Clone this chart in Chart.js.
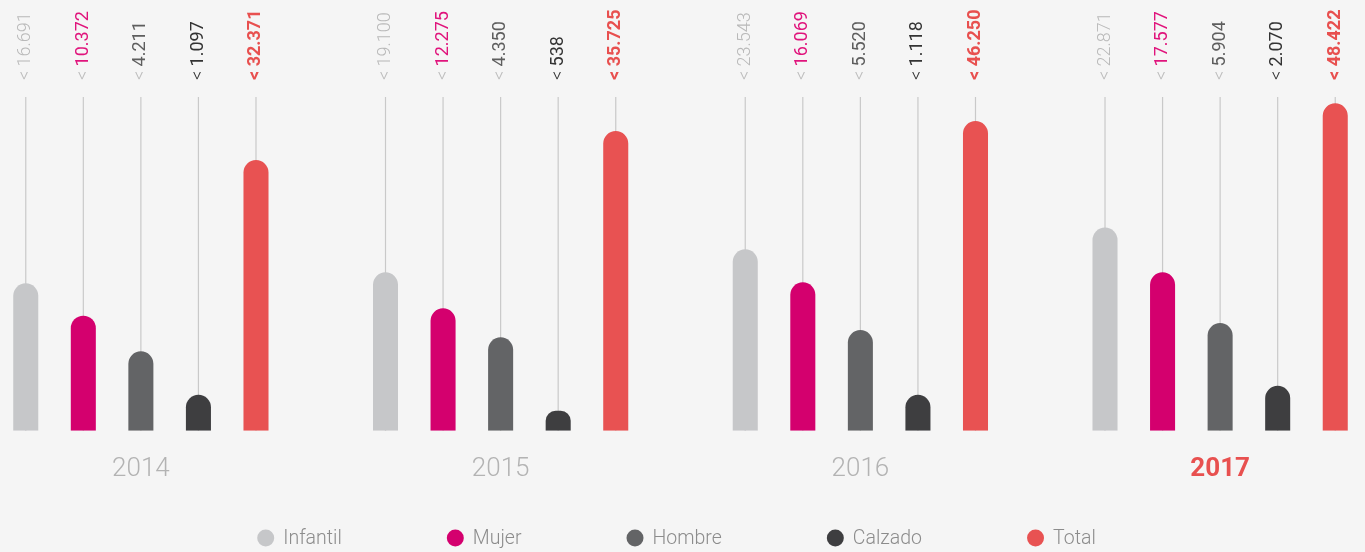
<!DOCTYPE html>
<html>
<head>
<meta charset="utf-8">
<script src="https://cdn.jsdelivr.net/npm/chart.js@4.4.1/dist/chart.umd.min.js"></script>
<style>
html,body{margin:0;padding:0;background:#f5f5f5;overflow:hidden;width:1365px;height:552px;}
#wrap{position:absolute;left:-39px;top:0;width:1439px;height:552px;}
</style>
</head>
<body>
<div id="wrap"><canvas id="c"></canvas></div>
<script>
// ---- data ----
const years = ['2014', '2015', '2016', '2017'];
const highlightYear = '2017';
const seriesNames = ['Infantil', 'Mujer', 'Hombre', 'Calzado', 'Total'];

// values printed above each bar
const infantilValues = [16691, 19100, 23543, 22871];
const mujerValues    = [10372, 12275, 16069, 17577];
const hombreValues   = [4211, 4350, 5520, 5904];
const calzadoValues  = [1097, 538, 1118, 2070];
const totalValues    = [32371, 35725, 46250, 48422];

// bar lengths as drawn in the picture (relative scale 0-100)
const infantilBars = [44.2, 47.5, 54.4, 60.9];
const mujerBars    = [34.5, 36.7, 44.5, 47.5];
const hombreBars   = [23.8, 28.0, 30.2, 32.3];
const calzadoBars  = [10.8, 6.0, 10.8, 13.5];
const totalBars    = [81.1, 89.8, 92.8, 98.1];

// ---- styles ----
const barColors     = ['#c6c7c9', '#d4006e', '#636466', '#3e3e40', '#e85252'];
const labelColors   = ['#b9b9b9', '#e0147c', '#5e5e5e', '#333333', '#e8504f'];
const chevronColors = ['#bdbdbd', '#bdbdbd', '#bdbdbd', '#333333', '#e8504f'];
const labelWeights  = ['300', '400', '400', '400', '700'];
const FONT = 'Roboto, "Open Sans", sans-serif';

const valuesList = [infantilValues, mujerValues, hombreValues, calzadoValues, totalValues];
const barsList = [infantilBars, mujerBars, hombreBars, calzadoBars, totalBars];

function fmt(n) {
  return String(n).replace(/\B(?=(\d{3})+(?!\d))/g, '.');
}

const datasets = seriesNames.map((name, i) => ({
  label: name,
  data: barsList[i],
  values: valuesList[i],
  labelColor: labelColors[i],
  chevronColor: chevronColors[i],
  labelWeight: labelWeights[i],
  backgroundColor: barColors[i],
  borderWidth: 0,
  borderRadius: {topLeft: 13, topRight: 13, bottomLeft: 0, bottomRight: 0},
  borderSkipped: false,
  categoryPercentage: 0.8,
  barPercentage: 0.435
}));

const stemPlugin = {
  id: 'stems',
  beforeDatasetsDraw(chart) {
    const ctx = chart.ctx;
    const {top, bottom} = chart.chartArea;
    ctx.save();
    ctx.strokeStyle = '#c9c9c9';
    ctx.lineWidth = 1.2;
    chart.data.datasets.forEach((ds, i) => {
      chart.getDatasetMeta(i).data.forEach(el => {
        ctx.beginPath();
        ctx.moveTo(el.x, top);
        ctx.lineTo(el.x, bottom);
        ctx.stroke();
      });
    });
    ctx.restore();
  },
  afterDatasetsDraw(chart) {
    const ctx = chart.ctx;
    const top = chart.chartArea.top;
    chart.data.datasets.forEach((ds, i) => {
      chart.getDatasetMeta(i).data.forEach((el, j) => {
        ctx.save();
        ctx.translate(el.x, top - 17);
        ctx.rotate(-Math.PI / 2);
        ctx.textAlign = 'left';
        ctx.textBaseline = 'middle';
        ctx.font = (ds.labelWeight === '700' ? '700' : '300') + ' 18px ' + FONT;
        ctx.fillStyle = ds.chevronColor;
        ctx.fillText('<', 0, 0);
        const cw = ctx.measureText('< ').width;
        ctx.font = ds.labelWeight + ' 18px ' + FONT;
        ctx.fillStyle = ds.labelColor;
        ctx.fillText(fmt(ds.values[j]), cw, 0);
        ctx.restore();
      });
    });
  }
};

const legendPlugin = {
  id: 'dotLegend',
  afterDraw(chart) {
    const ctx = chart.ctx;
    ctx.save();
    ctx.font = '300 19.5px ' + FONT;
    const r = 8.5, gapDot = 9, gapItem = 105;
    const items = chart.data.datasets.map(ds => ({
      label: ds.label, color: ds.backgroundColor, w: ctx.measureText(ds.label).width
    }));
    const total = items.reduce((s, it) => s + 2 * r + gapDot + it.w, 0) + gapItem * (items.length - 1);
    let x = (chart.width - total) / 2 - 4;
    const y = chart.height - 14;
    items.forEach(it => {
      ctx.fillStyle = it.color;
      ctx.beginPath();
      ctx.arc(x + r, y, r, 0, Math.PI * 2);
      ctx.fill();
      ctx.fillStyle = '#8c8c8c';
      ctx.textAlign = 'left';
      ctx.textBaseline = 'middle';
      ctx.fillText(it.label, x + 2 * r + gapDot, y + 1);
      x += 2 * r + gapDot + it.w + gapItem;
    });
    ctx.restore();
  }
};

new Chart(document.getElementById('c'), {
  type: 'bar',
  data: {labels: years, datasets: datasets},
  plugins: [stemPlugin, legendPlugin],
  options: {
    responsive: true,
    maintainAspectRatio: false,
    animation: false,
    layout: {padding: {top: 97, bottom: 44, left: 0, right: 0}},
    plugins: {legend: {display: false}, tooltip: {enabled: false}},
    scales: {
      x: {
        offset: true,
        grid: {display: false, drawTicks: false},
        border: {display: false},
        ticks: {
          padding: 23,
          color: (c) => years[c.index] === highlightYear ? '#e8504f' : '#b3b3b3',
          font: (c) => ({family: FONT, size: 26, weight: years[c.index] === highlightYear ? '700' : '300'})
        }
      },
      y: {display: false, min: 0, max: 100}
    }
  }
});
</script>
</body>
</html>
